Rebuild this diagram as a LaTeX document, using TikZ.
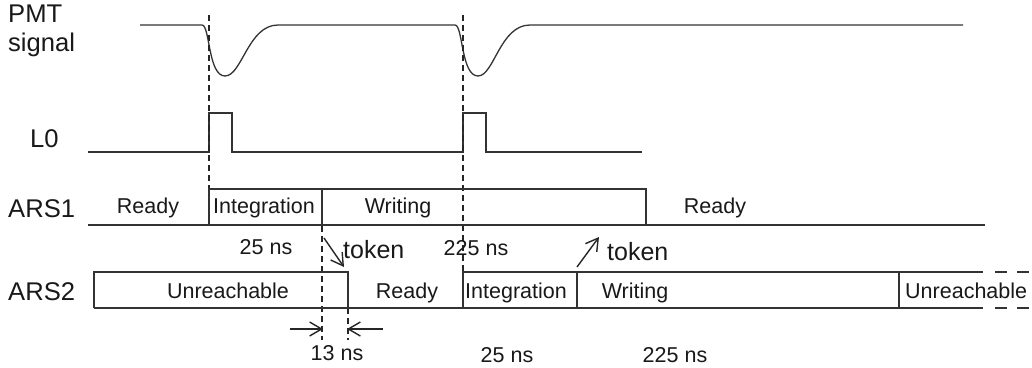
\documentclass[tikz,border=0pt]{standalone}
\usepackage{fontspec}
\setmainfont{Liberation Sans}
\usetikzlibrary{arrows.meta}
\begin{document}
\begin{tikzpicture}[x=1pt,y=-1pt,
  sig/.style={line width=1.3pt, draw=black!80},
  vdash/.style={line width=1.4pt, draw=black!85, dash pattern=on 6pt off 4pt},
  rdash/.style={line width=1.3pt, draw=black!80, dash pattern=on 12pt off 10pt},
  big/.style={font=\fontsize{25.6}{30}\selectfont, inner sep=0pt, text=black!90},
  st/.style={font=\fontsize{21.5}{25}\selectfont, inner sep=0pt, text=black!90},
  ns/.style={font=\fontsize{21.5}{25}\selectfont, inner sep=0pt, text=black!90},
  tok/.style={font=\fontsize{25}{29}\selectfont, inner sep=0pt, text=black!90},
  arr/.style={line width=1.4pt, draw=black!85, -{Straight Barb[length=12pt,width=14pt]}}]
\useasboundingbox (0,0) rectangle (1032,367);
\fill[white] (0,0) rectangle (1032,367);

% labels
\node[big, anchor=base west] (pmt) at (8,22) {PMT};
\node[big, anchor=base west] (signal) at (8,51) {signal};
\node[big, anchor=base west] (l0) at (30,147) {L0};
\node[big, anchor=base west] (ars1) at (8,217) {ARS1};
\node[big, anchor=base west] (ars2) at (8,300) {ARS2};

% PMT signal
\draw[sig] (140,25) -- (202,25) .. controls (210,25) and (208,76) .. (225,76)
  .. controls (242,76) and (248,25) .. (278,25) -- (455,25)
  .. controls (463,25) and (461,76) .. (478,76)
  .. controls (494,76) and (500,25) .. (530,25) -- (963,25);

% L0
\draw[sig] (88,152) -- (209,152) -- (209,113) -- (232,113) -- (232,152) -- (463,152)
  -- (463,113) -- (486,113) -- (486,152) -- (642,152);

% dashed markers
\draw[vdash] (209,15) -- (209,189);
\draw[vdash] (463,15) -- (463,272);
\draw[vdash] (322,226) -- (322,340);
\draw[vdash] (348,308) -- (348,340);

% ARS1
\draw[sig] (88,225) -- (985,225);
\draw[sig] (209,225) -- (209,189) -- (646,189) -- (646,225);
\draw[sig] (322,189) -- (322,225);

% ARS2
\draw[sig] (94,308) -- (983,308);
\draw[sig] (94,308) -- (94,272) -- (348,272) -- (348,308);
\draw[sig] (463,308) -- (463,272) -- (983,272);
\draw[sig] (577,272) -- (577,308);
\draw[sig] (899,272) -- (899,308);
\draw[rdash] (995,272) -- (1032,272);
\draw[rdash] (995,308) -- (1032,308);

% state texts
\node[st, anchor=base] (r1) at (148,213) {Ready};
\node[st, anchor=base] (i1) at (264,213) {Integration};
\node[st, anchor=base] (w1) at (398,213) {Writing};
\node[st, anchor=base] (r1b) at (715,213) {Ready};
\node[st, anchor=base] (u2) at (228,298) {Unreachable};
\node[st, anchor=base] (r2) at (407,298) {Ready};
\node[st, anchor=base] (i2) at (516,298) {Integration};
\node[st, anchor=base] (w2) at (635,298) {Writing};
\node[st, anchor=base west] (u2b) at (905,298) {Unreachable};

% timing texts
\node[ns, anchor=base] (n25a) at (266,254) {25 ns};
\node[tok, anchor=base west] (tok1) at (343,258) {token};
\node[ns, anchor=base] (n225a) at (476,255) {225 ns};
\node[tok, anchor=base west] (tok2) at (607,260) {token};
\node[ns, anchor=base] (n13) at (337,360) {13 ns};
\node[ns, anchor=base] (n25b) at (507,362) {25 ns};
\node[ns, anchor=base] (n225b) at (675,362) {225 ns};

% arrows
\coordinate (t1s) at (324,238); \coordinate (t1e) at (344,267);
\coordinate (t2s) at (577,267); \coordinate (t2e) at (599,237);
\coordinate (a1s) at (290,329); \coordinate (a1e) at (323,329);
\coordinate (a2s) at (383,329); \coordinate (a2e) at (347,329);
\draw[arr] (t1s) -- (t1e);
\draw[arr] (t2s) -- (t2e);
\draw[arr] (a1s) -- (a1e);
\draw[arr] (a2s) -- (a2e);
\end{tikzpicture}
\end{document}
